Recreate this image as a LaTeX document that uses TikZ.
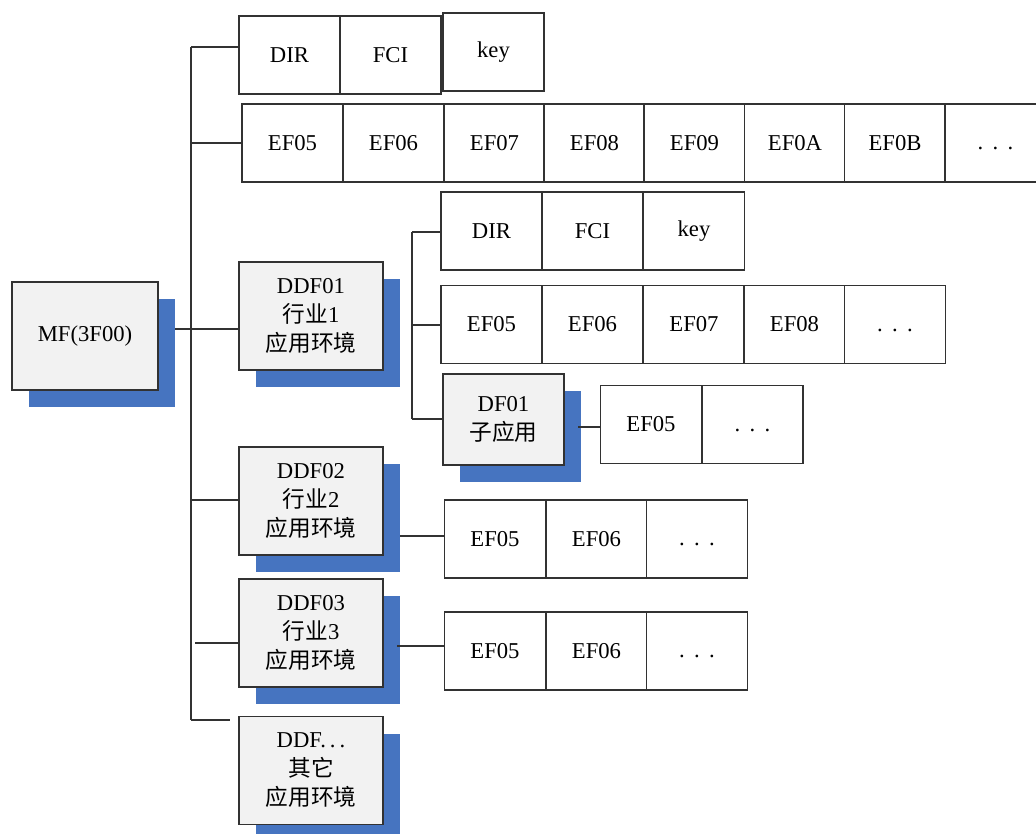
\documentclass[tikz,border=0pt]{standalone}
\usepackage{fontspec}
\setmainfont{Liberation Serif}
\newfontfamily\cjk{Noto Sans CJK SC}
\usetikzlibrary{shadows}
\definecolor{shblue}{RGB}{70,116,192}
\definecolor{boxgray}{RGB}{242,242,242}
\definecolor{linec}{RGB}{50,50,50}
\newcommand{\mydots}{\raisebox{-5pt}[0pt][0pt]{.\hspace{7pt}.\hspace{7pt}.}}
\begin{document}
\begin{tikzpicture}[x=0.75pt,y=-0.75pt,
  txt/.style={font=\fontsize{17}{21.75}\selectfont},
  cell/.style={txt,draw=linec,line width=0.9pt,fill=white,minimum width=101*0.75pt,minimum height=78*0.75pt,inner sep=0pt},
  shbox/.style={txt,draw=linec,line width=0.9pt,fill=boxgray,align=center,inner sep=0pt,
     drop shadow={shadow xshift=17*0.75pt,shadow yshift=-17*0.75pt,fill=shblue,opacity=1}},
  ddf/.style={shbox,minimum width=144*0.75pt,minimum height=108*0.75pt},
  conn/.style={draw=linec,line width=0.9pt}]
\useasboundingbox (0,0) rectangle (1036,834);
\fill[white] (0,0) rectangle (1036,834);

% main file
\node[shbox,minimum width=146*0.75pt,minimum height=108*0.75pt] (mf) at (85,336) {MF(3F00)};

% top rows
\node[cell] (dir1) at (289.5,55) {DIR};
\node[cell] (fci1) at (390.5,55) {FCI};
\node[cell] (key1) at (493.5,52) {key};

\node[cell] (a1) at (292.5,143) {EF05};
\node[cell] (a2) at (393.5,143) {EF06};
\node[cell] (a3) at (494.5,143) {EF07};
\node[cell] (a4) at (594.5,143) {EF08};
\node[cell] (a5) at (694.5,143) {EF09};
\node[cell] (a6) at (795,143) {EF0A};
\node[cell] (a7) at (895,143) {EF0B};
\node[cell] (a8) at (995.5,143) {\mydots};

% DDF boxes
\node[ddf] (ddf1) at (311,316) {DDF01\\{\cjk 行业}1\\{\cjk 应用环境}};
\node[ddf] (ddf2) at (311,501) {DDF02\\{\cjk 行业}2\\{\cjk 应用环境}};
\node[ddf] (ddf3) at (311,633) {DDF03\\{\cjk 行业}3\\{\cjk 应用环境}};
\node[ddf] (ddf4) at (311,770.5) {DDF.\hspace{3pt}.\hspace{3pt}.\\{\cjk 其它}\\{\cjk 应用环境}};

% DDF01 children
\node[cell] (dir2) at (491.5,231) {DIR};
\node[cell] (fci2) at (592.5,231) {FCI};
\node[cell] (key2) at (694,231) {key};

\node[cell] (b1) at (491.5,324.5) {EF05};
\node[cell] (b2) at (592.5,324.5) {EF06};
\node[cell] (b3) at (694,324.5) {EF07};
\node[cell] (b4) at (794.5,324.5) {EF08};
\node[cell] (b5) at (895,324.5) {\mydots};

\node[shbox,minimum width=121*0.75pt,minimum height=91*0.75pt] (df01) at (503.5,419.5) {DF01\\{\cjk 子应用}};
\node[cell] (c1) at (651,424.5) {EF05};
\node[cell] (c2) at (752.5,424.5) {\mydots};

% DDF02 / DDF03 children
\node[cell] (d1) at (495,539) {EF05};
\node[cell] (d2) at (596.5,539) {EF06};
\node[cell] (d3) at (697,539) {\mydots};

\node[cell] (e1) at (495,651) {EF05};
\node[cell] (e2) at (596.5,651) {EF06};
\node[cell] (e3) at (697,651) {\mydots};

% connectors
\coordinate (ttop) at (191,47);
\coordinate (tbot) at (191,720);
\coordinate (mfout) at (175,329);
\coordinate (t2) at (191,500);
\coordinate (t3) at (195,643);
\coordinate (tend) at (230,720);
\draw[conn] (ttop) -- (tbot);
\draw[conn] (ttop) -- (ttop -| dir1.west);
\draw[conn] (ttop |- a1.west) -- (a1.west);
\draw[conn] (mfout) -- (mfout -| ddf1.west);
\draw[conn] (t2) -- (t2 -| ddf2.west);
\draw[conn] (t3) -- (t3 -| ddf3.west);
\draw[conn] (tbot) -- (tend);

\coordinate (stop) at (412,232);
\coordinate (sbot) at (412,419);
\coordinate (smid) at (412,325);
\draw[conn] (stop) -- (sbot);
\draw[conn] (stop) -- (stop -| dir2.west);
\draw[conn] (smid) -- (smid -| b1.west);
\draw[conn] (sbot) -- (sbot -| df01.west);

\coordinate (dfout) at (578,427);
\draw[conn] (dfout) -- (dfout -| c1.west);
\coordinate (d2out) at (400,536);
\draw[conn] (d2out) -- (d2out -| d1.west);
\coordinate (d3out) at (397,646);
\draw[conn] (d3out) -- (d3out -| e1.west);
\end{tikzpicture}
\end{document}
